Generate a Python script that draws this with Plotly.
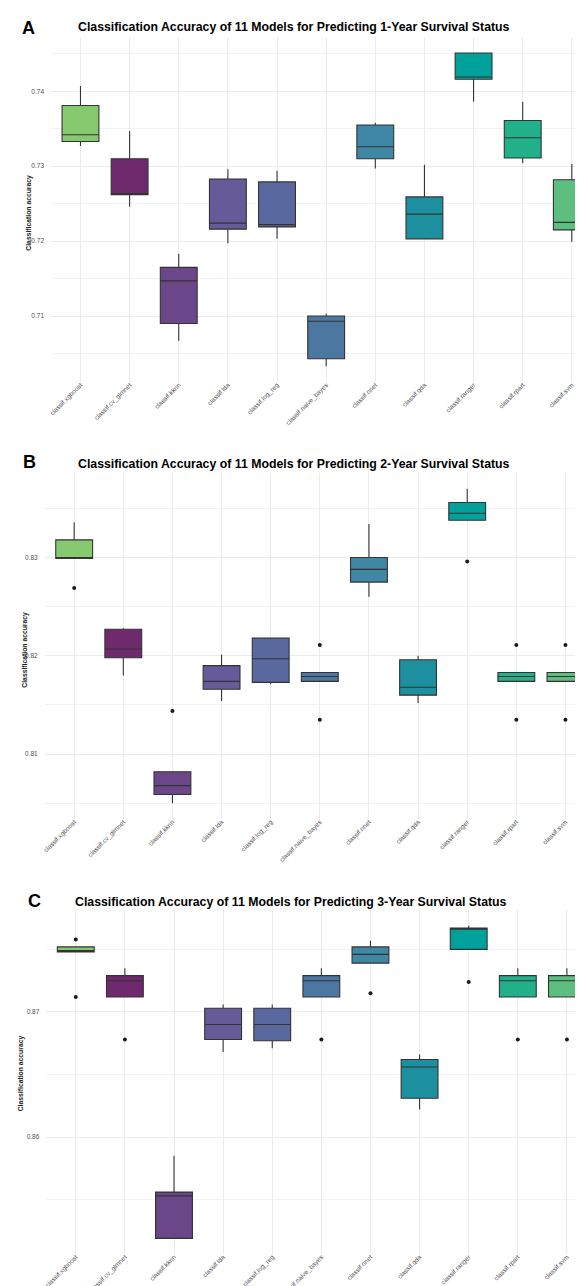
import plotly.graph_objects as go

W, H = 583, 1286

models = ["classif.xgboost", "classif.cv_glmnet", "classif.kknn", "classif.lda",
          "classif.log_reg", "classif.naive_bayes", "classif.nnet", "classif.qda",
          "classif.ranger", "classif.rpart", "classif.svm"]

colors = ["#87C96E", "#6E2A6C", "#6B4689", "#675A98", "#5A68A0", "#4C77A0",
          "#3F87A4", "#1C909E", "#00A19A", "#22B08B", "#5CBF80"]

# ---- Panel A: 1-year ----
a_low = [0.7327, 0.7246, 0.7067, 0.7197, 0.7203, 0.7033, 0.7297, 0.7203, 0.7386, 0.7304, 0.7199]
a_q1  = [0.7333, 0.7262, 0.7090, 0.7216, 0.7219, 0.7043, 0.7310, 0.7203, 0.7416, 0.7311, 0.7215]
a_med = [0.7342, 0.7263, 0.7147, 0.7224, 0.7222, 0.7093, 0.7326, 0.7236, 0.7419, 0.7338, 0.7225]
a_q3  = [0.7381, 0.7310, 0.7165, 0.7283, 0.7279, 0.7100, 0.7355, 0.7259, 0.7451, 0.7361, 0.7282]
a_up  = [0.7407, 0.7347, 0.7183, 0.7296, 0.7294, 0.7103, 0.7358, 0.7302, 0.7451, 0.7386, 0.7303]
a_out_x = []
a_out_y = []

# ---- Panel B: 2-year ----
b_low = [0.8299, 0.8180, 0.8050, 0.8154, 0.8171, 0.8174, 0.8260, 0.8152, 0.8338, 0.8174, 0.8174]
b_q1  = [0.8299, 0.8198, 0.8059, 0.8166, 0.8173, 0.8174, 0.8275, 0.8160, 0.8338, 0.8174, 0.8174]
b_med = [0.8300, 0.8207, 0.8068, 0.8174, 0.8197, 0.8179, 0.8288, 0.8168, 0.8345, 0.8179, 0.8179]
b_q3  = [0.8318, 0.8227, 0.8082, 0.8190, 0.8218, 0.8183, 0.8300, 0.8196, 0.8356, 0.8183, 0.8183]
b_up  = [0.8336, 0.8228, 0.8082, 0.8201, 0.8218, 0.8183, 0.8334, 0.8200, 0.8370, 0.8183, 0.8183]
b_out_x = ["classif.xgboost", "classif.kknn", "classif.naive_bayes", "classif.naive_bayes",
           "classif.ranger", "classif.rpart", "classif.rpart", "classif.svm", "classif.svm"]
b_out_y = [0.8269, 0.8144, 0.8211, 0.8135, 0.8296, 0.8211, 0.8135, 0.8211, 0.8135]

# ---- Panel C: 3-year ----
c_low = [0.8748, 0.8712, 0.8519, 0.8668, 0.8671, 0.8712, 0.8739, 0.8622, 0.8750, 0.8712, 0.8712]
c_q1  = [0.8748, 0.8712, 0.8519, 0.8678, 0.8677, 0.8712, 0.8739, 0.8631, 0.8750, 0.8712, 0.8712]
c_med = [0.8749, 0.8725, 0.8553, 0.8690, 0.8690, 0.8725, 0.8746, 0.8656, 0.8767, 0.8725, 0.8725]
c_q3  = [0.8752, 0.8729, 0.8556, 0.8703, 0.8703, 0.8729, 0.8752, 0.8662, 0.8767, 0.8729, 0.8729]
c_up  = [0.8752, 0.8735, 0.8585, 0.8706, 0.8706, 0.8735, 0.8757, 0.8666, 0.8769, 0.8735, 0.8735]
c_out_x = ["classif.xgboost", "classif.xgboost", "classif.cv_glmnet", "classif.naive_bayes",
           "classif.nnet", "classif.ranger", "classif.rpart", "classif.svm"]
c_out_y = [0.8758, 0.8712, 0.8678, 0.8678, 0.8715, 0.8724, 0.8678, 0.8678]

titles = ["Classification Accuracy of 11 Models for Predicting 1-Year Survival Status",
          "Classification Accuracy of 11 Models for Predicting 2-Year Survival Status",
          "Classification Accuracy of 11 Models for Predicting 3-Year Survival Status"]
letters = ["A", "B", "C"]

FONT = "Liberation Sans, Arial, Helvetica, sans-serif"

panels = [
    dict(low=a_low, q1=a_q1, med=a_med, q3=a_q3, up=a_up, ox=a_out_x, oy=a_out_y,
         top=29.3, bot=374, left=43, xr=[-0.6, 10.39], yr=[0.7012, 0.7472],
         ticks=[0.71, 0.72, 0.73, 0.74], title_xy=(285.5, 19), letter_xy=(20.5, 19.5),
         ytitle_xy=(20.7, 205)),
    dict(low=b_low, q1=b_q1, med=b_med, q3=b_q3, up=b_up, ox=b_out_x, oy=b_out_y,
         top=465, bot=811, left=36.7, xr=[-0.6, 10.52], yr=[0.8034, 0.8386],
         ticks=[0.81, 0.82, 0.83], title_xy=(286, 455.7), letter_xy=(21.5, 454),
         ytitle_xy=(16.7, 642)),
    dict(low=c_low, q1=c_q1, med=c_med, q3=c_q3, up=c_up, ox=c_out_x, oy=c_out_y,
         top=902, bot=1246, left=38.3, xr=[-0.6, 10.49], yr=[0.85065, 0.87815],
         ticks=[0.86, 0.87], title_xy=(282.5, 894), letter_xy=(26, 893.3),
         ytitle_xy=(13.3, 1065)),
]

fig = go.Figure()
annotations = []
layout_axes = {}

for p_i, p in enumerate(panels):
    sfx = "" if p_i == 0 else str(p_i + 1)
    xa, ya = "x" + sfx, "y" + sfx
    for i, m in enumerate(models):
        fig.add_trace(go.Box(
            x=[m], q1=[p["q1"][i]], median=[p["med"][i]], q3=[p["q3"][i]],
            lowerfence=[p["low"][i]], upperfence=[p["up"][i]],
            fillcolor=colors[i], line=dict(color="#333333", width=1.1),
            width=0.75, whiskerwidth=0, boxpoints=False, showlegend=False,
            hoverinfo="skip", xaxis=xa, yaxis=ya))
    if p["ox"]:
        fig.add_trace(go.Scatter(
            x=p["ox"], y=p["oy"], mode="markers",
            marker=dict(color="#1A1A1A", size=4), showlegend=False,
            hoverinfo="skip", xaxis=xa, yaxis=ya))

    layout_axes["xaxis" + sfx] = dict(
        domain=[p["left"] / W, 1], anchor=ya, type="category",
        categoryorder="array", categoryarray=models, range=p["xr"],
        showgrid=True, gridcolor="#EBEBEB", gridwidth=1, zeroline=False,
        showline=False, ticks="", tickangle=-45, ticklabelstandoff=-3,
        tickfont=dict(family=FONT, size=6.5, color="#4D4D4D"), automargin=False)
    layout_axes["yaxis" + sfx] = dict(
        domain=[1 - p["bot"] / H, 1 - p["top"] / H], anchor=xa, range=p["yr"],
        tickvals=p["ticks"], ticktext=[f"{t:g}" for t in p["ticks"]],
        showgrid=True, gridcolor="#EBEBEB", gridwidth=1, zeroline=False,
        showline=False, ticks="", ticklabelstandoff=6,
        minor=dict(dtick=0.005, tick0=0.0, showgrid=True, gridcolor="#F2F2F2", gridwidth=0.6),
        tickfont=dict(family=FONT, size=6.5, color="#4D4D4D"), automargin=False)

    tx, ty = p["title_xy"]
    annotations.append(dict(text="<b>" + titles[p_i] + "</b>", x=tx / W, y=1 - ty / H,
                            xref="paper", yref="paper", showarrow=False,
                            xanchor="center", yanchor="middle",
                            font=dict(family=FONT, size=12.3, color="#000000")))
    lx, ly = p["letter_xy"]
    annotations.append(dict(text="<b>" + letters[p_i] + "</b>", x=lx / W, y=1 - ly / H,
                            xref="paper", yref="paper", showarrow=False,
                            xanchor="center", yanchor="middle",
                            font=dict(family=FONT, size=18, color="#000000")))
    yx, yy = p["ytitle_xy"]
    annotations.append(dict(text="<b>Classification accuracy</b>", x=yx / W, y=1 - yy / H,
                            xref="paper", yref="paper", showarrow=False, textangle=-90,
                            xanchor="center", yanchor="middle",
                            font=dict(family=FONT, size=6.8, color="#1A1A1A")))

fig.update_layout(
    width=W, height=H, margin=dict(l=0, r=0, t=0, b=0),
    paper_bgcolor="white", plot_bgcolor="white", boxmode="overlay",
    font=dict(family=FONT), annotations=annotations, **layout_axes)

fig.write_html("out.html")
